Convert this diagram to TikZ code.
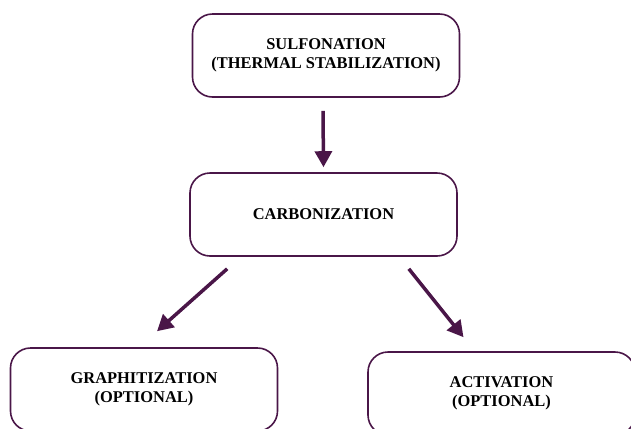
\documentclass[tikz,border=0pt]{standalone}
\usepackage{fontspec}
\setmainfont{Liberation Serif}
\usetikzlibrary{arrows.meta}
\definecolor{plum}{RGB}{74,22,72}
\tikzset{stage/.style={draw=plum,line width=1.6bp,rounded corners=20bp,minimum width=267bp,minimum height=83bp,align=center,font=\bfseries\fontsize{16.5}{19.5}\selectfont},
         flow/.style={draw=plum,line width=3.5bp,-{Triangle[length=16bp,width=17bp]}}}
\begin{document}
\begin{tikzpicture}[x=1bp,y=-1bp]
    \clip (0,0) rectangle (631,428);
    \node[stage] (sulf) at (326,55.5) {SULFONATION\\(THERMAL STABILIZATION)};
    \node[stage] (carb) at (323.5,214.5) {CARBONIZATION};
    \node[stage] (graph) at (144,389.5) {GRAPHITIZATION\\(OPTIONAL)};
    \node[stage] (activ) at (501.5,393.5) {ACTIVATION\\(OPTIONAL)};
    \draw[flow] ([xshift=-3bp,yshift=-13bp]sulf.south) -- ([yshift=5bp]carb.north);
    \draw[flow] ([xshift=38bp,yshift=-12bp]carb.south west) -- ([xshift=13bp,yshift=16bp]graph.north);
    \draw[flow] ([xshift=-49bp,yshift=-12bp]carb.south east) -- ([xshift=-38bp,yshift=14bp]activ.north);
\end{tikzpicture}
\end{document}
